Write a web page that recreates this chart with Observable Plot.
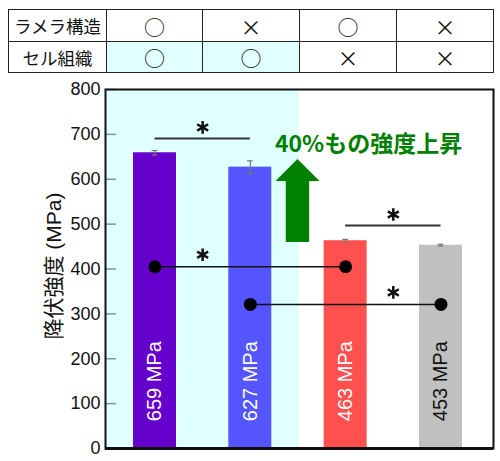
<!DOCTYPE html>
<html><head><meta charset="utf-8">
<script src="https://cdn.jsdelivr.net/npm/d3@7"></script>
<script src="https://cdn.jsdelivr.net/npm/@observablehq/plot@0.6"></script>
<style>
body{margin:0;background:#fff;font-family:"Liberation Sans","Noto Sans CJK JP",sans-serif;}
#wrap{position:relative;width:500px;height:461px;overflow:hidden;}
#tbl{position:absolute;left:8px;top:9px;border-collapse:collapse;table-layout:fixed;width:485px;}
#tbl td{border:1.5px solid #222;text-align:center;padding:0;font-family:"Noto Sans CJK JP",sans-serif;color:#111;}
#tbl td.head{font-size:17.5px;}
#tbl td.sym{font-size:21px;}
#tbl td.cyan{background:#e0ffff;}
#tbl tr.r1 td{height:31px;}
#tbl tr.r2 td{height:30px;}
#chart{position:absolute;left:0;top:80px;}
</style></head>
<body>
<div id="wrap">
<table id="tbl"><colgroup><col style="width:98px"><col style="width:96px"><col style="width:97px"><col style="width:97px"><col style="width:97px"></colgroup>
<tbody></tbody></table>
<div id="chart"></div>
</div>
<script>
// ---- data ----
const rowLabels = ["ラメラ構造", "セル組織"];
const lamella = ["○", "×", "○", "×"];
const cellStruct = ["○", "○", "×", "×"];
const values = [659, 627, 463, 453];
const errors = [5, 14, 3, 2];
const barColors = ["#6600cc", "#5555ff", "#ff5050", "#c0c0c0"];
const labelColors = ["#ffffff", "#ffffff", "#ffffff", "#111111"];
const yTicks = [0, 100, 200, 300, 400, 500, 600, 700, 800];
const sigBrackets = [{a: 0, b: 1, y: 691}, {a: 2, b: 3, y: 497}];
const sigPairs = [{a: 0, b: 2, y: 405, star: 0.5}, {a: 1, b: 3, y: 321, star: 2.5}];
const yLabel = "降伏強度 (MPa)";
const note = "40%もの強度上昇";
const noteValue = 677;
const arrowFrom = 459, arrowTo = 644;
const labelValue = 150;

// ---- table ----
const tbody = document.querySelector("#tbl tbody");
[lamella, cellStruct].forEach((row, r) => {
  const tr = document.createElement("tr");
  tr.className = "r" + (r + 1);
  const th = document.createElement("td");
  th.className = "head"; th.textContent = rowLabels[r]; tr.appendChild(th);
  row.forEach(s => {
    const td = document.createElement("td");
    td.className = "sym" + (r === 1 && s === "○" ? " cyan" : "");
    td.textContent = s; tr.appendChild(td);
  });
  tbody.appendChild(tr);
});

// ---- chart ----
const idx = d3.range(values.length);
const rows = idx.map(i => ({i, value: values[i], err: errors[i], color: barColors[i],
  label: `${values[i]} MPa`, labelColor: labelColors[i]}));
const X0 = -0.519, X1 = 3.551, HALF = 0.2255;
const lastCell = d3.max(idx.filter(i => cellStruct[i] === "○"));
const pairDots = sigPairs.flatMap(d => [{x: d.a, y: d.y}, {x: d.b, y: d.y}]);

function blockArrow(index, scales) {
  const x = scales.x(lastCell + 0.5), yb = scales.y(arrowFrom), yt = scales.y(arrowTo);
  const sw = 11.7, hw = 22, hl = 22;
  return d3.create("svg:path")
    .attr("d", `M${x - sw},${yb}V${yt + hl}H${x - hw}L${x},${yt}L${x + hw},${yt + hl}H${x + sw}V${yb}Z`)
    .attr("fill", "#008000").node();
}

const chart = Plot.plot({
  width: 500, height: 381,
  marginLeft: 105, marginRight: 7, marginTop: 9, marginBottom: 13,
  style: {fontFamily: "'Liberation Sans','Noto Sans CJK JP',sans-serif", background: "transparent", color: "#111"},
  x: {type: "linear", domain: [X0, X1], axis: null},
  y: {domain: [0, 800], axis: null},
  color: {type: "identity"},
  marks: [
    Plot.rect([0], {x1: () => X0, x2: () => lastCell + 0.515, y1: () => 0, y2: () => 800, fill: "#e0ffff"}),
    Plot.tickY(yTicks, {y: d => d, insetRight: 377, stroke: "#7a9a9a", strokeWidth: 1.5}),
    Plot.axisY({ticks: yTicks, tickSize: 0, tickPadding: 5, fontSize: 18, label: null, fill: "#111"}),
    Plot.rectY(rows, {x1: d => d.i - HALF, x2: d => d.i + HALF, y1: () => 0, y2: "value", fill: "color"}),
    Plot.ruleX(rows, {x: "i", y1: d => d.value - d.err, y2: d => d.value + d.err, stroke: "#777", strokeWidth: 1.2}),
    Plot.ruleY(rows, {x1: d => d.i - 0.03, x2: d => d.i + 0.03, y: d => d.value + d.err, stroke: "#777", strokeWidth: 1.2}),
    Plot.ruleY(rows, {x1: d => d.i - 0.03, x2: d => d.i + 0.03, y: d => d.value - d.err, stroke: "#777", strokeWidth: 1.2}),
    Plot.text(rows, {x: "i", y: () => labelValue, text: "label", rotate: -90, fill: "labelColor", fontSize: 20}),
    Plot.ruleY(sigBrackets, {x1: "a", x2: "b", y: "y", stroke: "#333", strokeWidth: 2}),
    Plot.dot(sigBrackets, {x: d => (d.a + d.b) / 2, y: "y", dy: -11, symbol: "asterisk", r: 6, stroke: "#111", strokeWidth: 2.5}),
    Plot.ruleY(sigPairs, {x1: "a", x2: "b", y: "y", stroke: "#111", strokeWidth: 1.5}),
    Plot.dot(pairDots, {x: "x", y: "y", r: 6.5, fill: "#000"}),
    Plot.dot(sigPairs, {x: "star", y: "y", dy: -12, symbol: "asterisk", r: 6, stroke: "#111", strokeWidth: 2.5}),
    blockArrow,
    Plot.text([note], {x: () => 2.24, y: () => noteValue, text: d => d, fill: "#008000", fontSize: 23, fontWeight: "bold",
      fontFamily: "'Noto Sans CJK JP',sans-serif"}),
    Plot.text([yLabel], {frameAnchor: "left", textAnchor: "middle", text: d => d, rotate: -90, dx: -51, dy: -3, fontSize: 21, fill: "#111"}),
    Plot.frame({stroke: "#111", strokeWidth: 2}),
    Plot.ruleY([0], {stroke: "#111", strokeWidth: 3})
  ]
});
document.getElementById("chart").appendChild(chart);
</script>
</body></html>
